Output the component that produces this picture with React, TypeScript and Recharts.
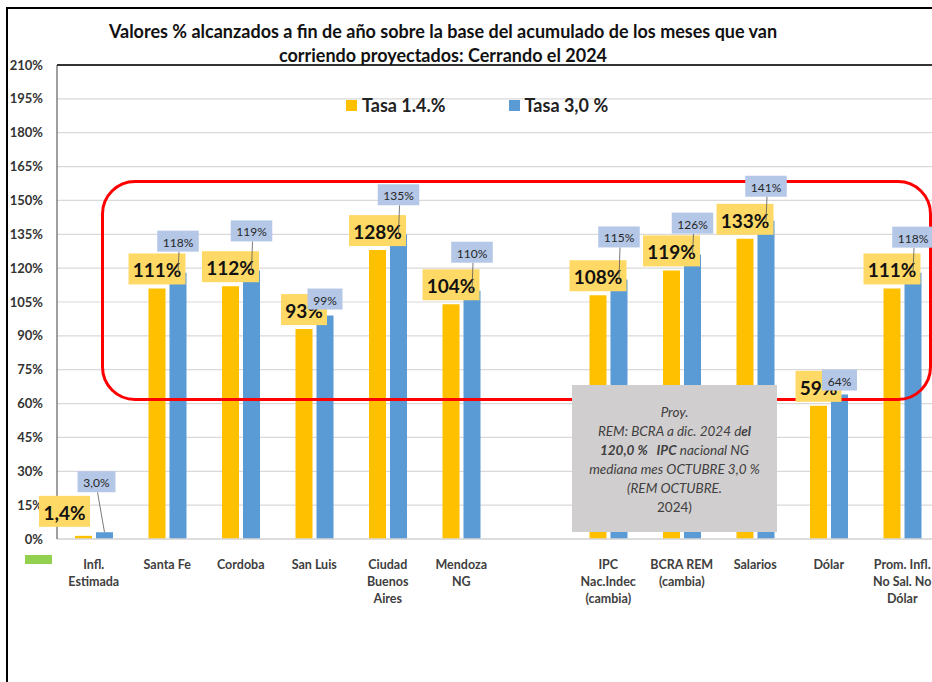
import React from 'react';
import { BarChart, Bar, XAxis, YAxis, CartesianGrid, ReferenceLine, LabelList, Legend } from 'recharts';

const categories = [
  'Infl.\nEstimada',
  'Santa Fe',
  'Cordoba',
  'San Luis',
  'Ciudad\nBuenos\nAires',
  'Mendoza\nNG',
  ' ',
  'IPC\nNac.Indec\n(cambia)',
  'BCRA REM\n(cambia)',
  'Salarios',
  'Dólar',
  'Prom. Infl.\nNo Sal. No\nDólar',
];
const tasa14 = [1.4, 111, 112, 93, 128, 104, null, 108, 119, 133, 59, 111];
const tasa30 = [3.0, 118, 119, 99, 135, 110, null, 115, 126, 141, 64, 118];
const yTicks = [0, 15, 30, 45, 60, 75, 90, 105, 120, 135, 150, 165, 180, 195, 210];
const seriesNames = ['Tasa 1.4.%', 'Tasa 3,0 %'];

const data = categories.map((name, i) => ({ name, t14: tasa14[i], t30: tasa30[i] }));

const YELLOW = '#FFC000';
const BLUE = '#5B9BD5';
const FONT = 'Lato, "Open Sans", sans-serif';

const CW = 950;
const CH = 682;
const margin = { top: 65, right: 11, bottom: 0, left: 0 };
const PLOT_LEFT = 57;
const BAND = (CW - margin.right - PLOT_LEFT) / categories.length;

// label placement tweaks (as moved by hand in the original), by category slot
const yellowShift: Record<number, [number, number]> = { 0: [-19, 9] };
const blueShift: Record<number, [number, number]> = {
  0: [-8, 40], 1: [0, 21], 2: [0, 29], 3: [0, 6], 4: [0, 29], 5: [0, 28],
  7: [0, 32], 8: [0, 21], 9: [0, 24], 10: [0, 4], 11: [0, 25],
};

const fmt = (v: number) => (v < 10 ? v.toFixed(1).replace('.', ',') : Math.round(v).toString()) + '%';

const textW = (s: string, digit: number, pct: number, comma: number) =>
  s.split('').reduce((w, c) => w + (c === '%' ? pct : c === ',' ? comma : digit), 0);

const geom = (p: any) => {
  const vb = p.viewBox || {};
  const x = p.x ?? vb.x;
  return {
    x,
    y: p.y ?? vb.y,
    width: p.width ?? vb.width,
    slot: Math.floor((x - PLOT_LEFT) / BAND),
  };
};

const YellowLabel = (p: any) => {
  if (p.value == null) return null;
  const { x, y, width, slot } = geom(p);
  const [dx, lift] = yellowShift[slot] || [0, 4];
  const s = fmt(Number(p.value));
  const w = textW(s, 11, 16, 5) + 8;
  const h = 31;
  const cx = x + width / 2 + dx;
  const bottom = y - lift;
  return (
    <g>
      <rect x={cx - w / 2} y={bottom - h} width={w} height={h} fill="#FFD966" />
      <text x={cx} y={bottom - h / 2 + 1} textAnchor="middle" dominantBaseline="central"
        fontFamily={FONT} fontWeight={700} fontSize={19} fill="#111">{s}</text>
    </g>
  );
};

const BlueLabel = (p: any) => {
  if (p.value == null) return null;
  const { x, y, width, slot } = geom(p);
  const [dx, lift] = blueShift[slot] || [0, 24];
  const s = fmt(Number(p.value));
  const w = textW(s, 6.5, 10, 3) + 12;
  const h = 21;
  const bx = x + width / 2;
  const cx = bx + dx;
  const bottom = y - lift;
  return (
    <g>
      {lift > 10 && <line x1={cx + 1} y1={bottom} x2={bx} y2={y} stroke="#595959" strokeWidth={0.8} />}
      <rect x={cx - w / 2} y={bottom - h} width={w} height={h} fill="#B4C7E7" />
      <text x={cx} y={bottom - h / 2 + 1} textAnchor="middle" dominantBaseline="central"
        fontFamily={FONT} fontSize={12} fill="#262626">{s}</text>
    </g>
  );
};

const XTick = (p: any) => {
  const lines = String(p.payload.value).trim().split('\n');
  return (
    <text x={p.x} y={p.y} textAnchor="middle" fontFamily={FONT} fontWeight={700} fontSize={12.5} fill="#404040">
      {lines.map((l, i) => (
        <tspan key={i} x={p.x} dy={i === 0 ? 22 : 17}>{l}</tspan>
      ))}
    </text>
  );
};

const LegendBox = () => (
  <div style={{ display: 'flex', fontFamily: FONT, fontWeight: 700, fontSize: 18, color: '#222' }}>
    {seriesNames.map((n, i) => (
      <div key={n} style={{ display: 'flex', alignItems: 'center', marginRight: i === 0 ? 63 : 0 }}>
        <span style={{ width: 11, height: 11, background: i === 0 ? YELLOW : BLUE, marginRight: 5, display: 'inline-block' }} />
        {n}
      </div>
    ))}
  </div>
);

const Chart = ({ overlay }: { overlay: boolean }) => (
  <BarChart width={CW} height={CH} data={data} margin={margin} barSize={17} barGap={4}>
    {!overlay && <CartesianGrid vertical={false} stroke="#D9D9D9" strokeWidth={1.2} />}
    <XAxis
      dataKey="name"
      height={143}
      interval={0}
      axisLine={overlay ? false : { stroke: '#D9D9D9', strokeWidth: 1.5 }}
      tickLine={false}
      tick={overlay ? false : <XTick />}
    />
    <YAxis
      width={PLOT_LEFT}
      domain={[0, 210]}
      ticks={yTicks}
      interval={0}
      tickSize={0}
      tickMargin={14}
      tickFormatter={(v: number) => v + '%'}
      axisLine={overlay ? false : { stroke: '#404040', strokeWidth: 1 }}
      tickLine={false}
      tick={overlay ? false : { fontFamily: FONT, fontWeight: 700, fontSize: 13, fill: '#333' }}
    />
    {!overlay && <ReferenceLine y={210} stroke="#333" strokeWidth={2} />}
    {!overlay && (
      <Legend
        layout="horizontal"
        verticalAlign="middle"
        align="center"
        content={<LegendBox />}
        wrapperStyle={{ position: 'absolute', top: 94, left: 346, width: 330 }}
      />
    )}
    <Bar dataKey="t14" name={seriesNames[0]} fill={overlay ? 'transparent' : YELLOW} isAnimationActive={false}>
      {overlay && <LabelList dataKey="t14" content={<YellowLabel />} />}
    </Bar>
    <Bar dataKey="t30" name={seriesNames[1]} fill={overlay ? 'transparent' : BLUE} isAnimationActive={false}>
      {overlay && <LabelList dataKey="t30" content={<BlueLabel />} />}
    </Bar>
  </BarChart>
);

export default function App() {
  return (
    <div style={{ position: 'absolute', left: 0, top: 0, width: 932, height: 682, overflow: 'hidden', background: '#fff', fontFamily: FONT }}>
      <div style={{ position: 'absolute', left: 6, top: 7, width: 1000, height: 1000, borderLeft: '2px solid #000', borderTop: '2px solid #000' }} />
      <div style={{ position: 'absolute', left: 0, top: 0 }}>
        <Chart overlay={false} />
      </div>
      <div style={{ position: 'absolute', left: 101, top: 180, width: 831, height: 221, border: '3px solid #FF0000', borderRadius: 34, boxSizing: 'border-box' }} />
      <div style={{ position: 'absolute', left: 0, top: 0 }}>
        <Chart overlay={true} />
      </div>
      <div style={{ position: 'absolute', left: 68, top: 19, width: 750, textAlign: 'center', fontWeight: 700, fontSize: 18, lineHeight: '24px', color: '#111' }}>
        Valores % alcanzados a fin de año sobre la base del acumulado de los meses que van<br />
        corriendo proyectados: Cerrando el 2024
      </div>
      <div style={{ position: 'absolute', left: 25, top: 555, width: 27, height: 9, background: '#92D050' }} />
      <div style={{ position: 'absolute', left: 572, top: 385, width: 205, height: 147, background: '#D0CECE', boxSizing: 'border-box', paddingTop: 18, textAlign: 'center', fontStyle: 'italic', fontSize: 13.5, lineHeight: '19px', color: '#404040' }}>
        Proy.<br />
        REM: BCRA a dic. 2024 d<b>el</b><br />
        <b>120,0 %&nbsp;&nbsp; IPC</b> nacional NG<br />
        mediana mes OCTUBRE 3,0 %<br />
        (REM OCTUBRE.<br />
        <span style={{ fontStyle: 'normal' }}>2024)</span>
      </div>
    </div>
  );
}
